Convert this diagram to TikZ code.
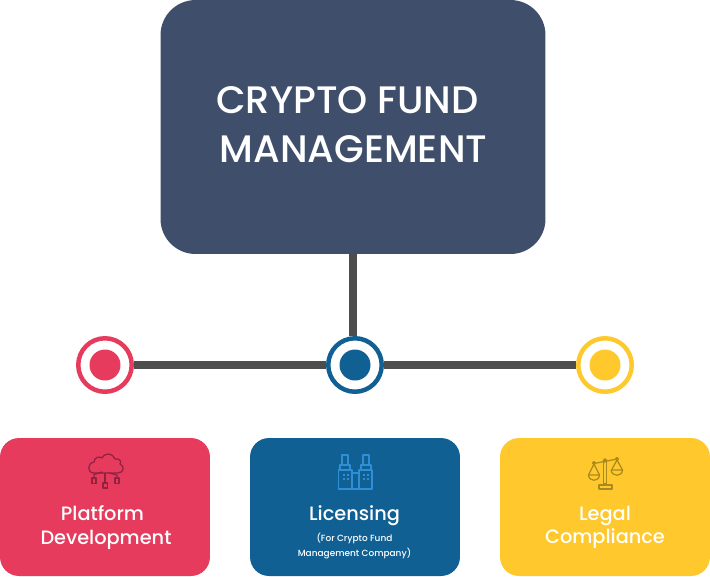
\documentclass[tikz,border=0pt]{standalone}
\usepackage{fontspec}
\setmainfont{Poppins Medium}
\usetikzlibrary{positioning}
\definecolor{hubblue}{HTML}{3F4F6B}
\definecolor{linegray}{HTML}{4D4D4D}
\definecolor{redc}{HTML}{E63B5D}
\definecolor{bluec}{HTML}{116093}
\definecolor{yellowc}{HTML}{FFC82C}
\definecolor{redicon}{HTML}{8F2240}
\definecolor{blueicon}{HTML}{2F8FD6}
\definecolor{yellowicon}{HTML}{A98A1E}
\tikzset{
  hubbox/.style={fill=hubblue,rounded corners=0.7cm,minimum width=7.7cm,minimum height=5.08cm,inner sep=0pt},
  hubtext/.style={text=white,align=center,font=\fontsize{21.8}{27.6}\selectfont},
  card/.style={fill=#1,rounded corners=0.38cm,minimum width=4.2cm,minimum height=2.76cm,inner sep=0pt},
  cardtext/.style={text=white,align=center,font=\fontsize{11}{13.2}\selectfont},
  subtext/.style={text=white,align=center,font=\fontsize{5.1}{8.8}\selectfont},
  ring/.style={circle,draw=#1,fill=white,line width=2.55pt,minimum size=1.07cm,inner sep=0pt},
  dot/.style={circle,fill=#1,minimum size=0.62cm,inner sep=0pt},
  link/.style={draw=linegray,line width=4pt},
  iconline/.style={line width=0.7pt,line join=round}
}
\begin{document}
\begin{tikzpicture}[x=0.02cm,y=-0.02cm]
\useasboundingbox (0,0) rectangle (710,576);

\node[hubbox] (hub) at (353,127) {};
\node[hubtext] (hubtitle) at (353.5,124.5) {CRYPTO FUND\hspace*{6.8pt}\\MANAGEMENT};

\node[ring=redc] (ringa) at (105,365) {};
\node[ring=bluec] (ringb) at (355,365) {};
\node[ring=yellowc] (ringc) at (605,365) {};
\node[dot=redc] (dota) at (ringa) {};
\node[dot=bluec] (dotb) at (ringb) {};
\node[dot=yellowc] (dotc) at (ringc) {};

\draw[link] (hub.south) -- (hub.south |- ringb.north);
\draw[link] (ringa) -- (ringb);
\draw[link] (ringb) -- (ringc);

\node[card=redc] (carda) at (105,507) {};
\node[card=bluec] (cardb) at (355,507) {};
\node[card=yellowc] (cardc) at (605,507) {};

\node[cardtext] (texta) at (106,527.5) {Platform\hspace*{4pt}\\Development};
\node[cardtext] (textb) at (354.5,516) {Licensing};
\node[subtext] (subb) at (354.5,546) {(For Crypto Fund\\Management Company)};
\node[cardtext] (textc) at (605,527.5) {Legal\\Compliance};

% cloud
\begin{scope}[iconline,draw=redicon]
\draw (94,473) .. controls (87,473) and (87,463) .. (94,462)
      .. controls (94,457) and (100,456) .. (102,458)
      .. controls (105,452) and (113,453) .. (115,459)
      .. controls (119,458) and (122,461) .. (120,464)
      .. controls (125,466) and (124,473) .. (118,473) -- cycle;
\draw (94,478) -- (94,474.5) -- (102,472) -- (102,473);
\draw (105,473) -- (105,483);
\draw (117,478) -- (117,475) -- (109,473);
\draw (92,478) rectangle (96,483.5);
\draw (103,483) rectangle (107.5,488);
\draw (115,478) rectangle (119,483.5);
\end{scope}

% buildings
\begin{scope}[iconline,draw=blueicon]
\draw (342,465) -- (342,455) -- (348,455) -- (348,465);
\draw (340,470) -- (340,465) -- (350,465) -- (350,470);
\draw (338.5,470) rectangle (352,489);
\draw (363,465) -- (363,455) -- (369,455) -- (369,465);
\draw (361,470) -- (361,465) -- (371,465) -- (371,470);
\draw (359,470) rectangle (372,489);
\draw (352,473) -- (359,473) (352,489) -- (359,489);
\foreach \wx in {342.5,346.5,363,367}
  \foreach \wy in {473.5,477.5}
    \fill[blueicon] (\wx,\wy) rectangle ++(2,2);
\end{scope}

% scales
\begin{scope}[iconline,draw=yellowicon]
\draw (603.5,461) rectangle (606.5,484);
\draw (599,485) rectangle (612,489);
\draw (594,463.5) -- (617,459);
\draw (594,463) circle (1.5) (605,460.5) circle (1.7) (617,459) circle (1.5);
\draw (594,464) -- (588.5,475) (594,464) -- (599.5,475);
\draw (588.5,475) -- (599.5,475) .. controls (599,482) and (589,482) .. (588.5,475);
\draw (617,460) -- (611.5,470) (617,460) -- (622.5,470);
\draw (611,470) -- (622.5,470) .. controls (622,477) and (612,477) .. (611,470);
\end{scope}
\end{tikzpicture}
\end{document}
